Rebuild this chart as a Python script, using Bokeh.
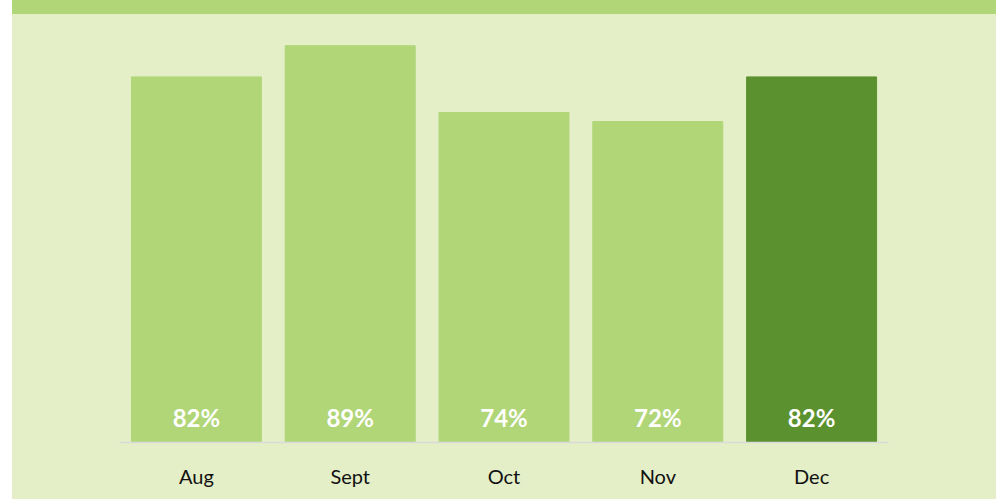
from bokeh.plotting import figure
from bokeh.models import ColumnDataSource, Range1d, FactorRange, Spacer
from bokeh.layouts import row, column
from bokeh.embed import file_html
from bokeh.resources import INLINE
from bokeh.core.properties import value

months = ["Aug", "Sept", "Oct", "Nov", "Dec"]
pct = [82, 89, 74, 72, 82]
highlight = "Dec"

BAND = "#B0D678"
BG = "#E4EFC8"
DARK = "#5B912E"

colors = [DARK if m == highlight else BAND for m in months]
labels = [f"{v}%" for v in pct]
src = ColumnDataSource(dict(m=months, v=pct, c=colors, t=labels))

band = figure(width=984, height=14, toolbar_location=None, output_backend="svg",
              min_border=0, x_range=Range1d(0, 1), y_range=Range1d(0, 1))
band.background_fill_color = BAND
band.border_fill_color = BAND
band.outline_line_color = None
band.axis.visible = False
band.grid.visible = False
band.styles = {"background-color": BAND}
band.rect(x=[0.5], y=[0.5], width=1, height=1, color=BAND)

p = figure(width=984, height=485, x_range=FactorRange(*months), y_range=Range1d(0, 96),
           toolbar_location=None, output_backend="svg",
           min_border_left=107, min_border_right=108, min_border_top=0, min_border_bottom=57)
p.background_fill_color = BG
p.border_fill_color = BG
p.outline_line_color = None
p.grid.visible = False
p.yaxis.visible = False
p.styles = {"background-color": BG}

p.vbar(x="m", top="v", width=0.845, source=src, fill_color="c", line_color="c")

p.text(x="m", y=0, text="t", source=src, y_offset=-25, text_align="center",
       text_baseline="middle", text_color="white", text_font=value("Lato"),
       text_font_style="bold", text_font_size="24px")

xa = p.xaxis[0]
xa.axis_line_color = "#D9D9D9"
xa.axis_line_width = 1.5
xa.major_tick_line_color = None
xa.minor_tick_line_color = None
xa.major_label_standoff = 15
xa.major_label_text_font = "Lato"
xa.major_label_text_font_size = "20px"
xa.major_label_text_color = "#111111"

layout = row(Spacer(width=12, height=499), column(band, p))
open("out.html", "w").write(file_html(layout, INLINE))
